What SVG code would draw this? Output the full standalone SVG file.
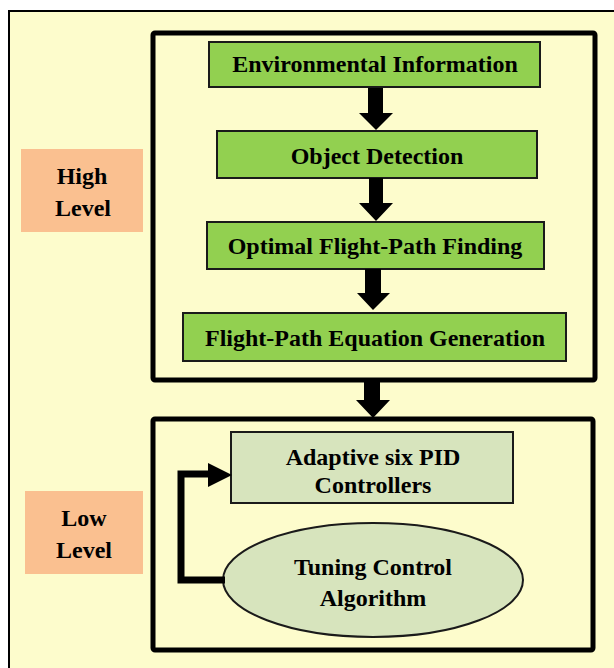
<svg xmlns="http://www.w3.org/2000/svg" width="614" height="668" viewBox="0 0 614 668">
<defs>
<style>
text{font-family:"Liberation Serif","Times New Roman",serif;font-weight:bold;font-size:24px;fill:#000;text-anchor:middle}
.green{fill:#92D050;stroke:#1a1a1a;stroke-width:2}
.pale{fill:#D7E4BD;stroke:#1a1a1a;stroke-width:2}
.frame{fill:none;stroke:#000;stroke-width:5}
.lbl{fill:#FAC090}
.arr{fill:#000}
</style>
</defs>
<rect x="0" y="0" width="614" height="668" fill="#fff"/>
<rect x="9" y="11" width="620" height="680" fill="#FDFCCC" stroke="#000" stroke-width="2"/>
<g id="high-frame"><rect class="frame" x="153" y="33" width="442" height="347" rx="2"/></g>
<g id="low-frame"><rect class="frame" x="153" y="419" width="440" height="231" rx="2"/></g>
<g id="high-label"><rect class="lbl" x="21" y="149" width="122" height="83"/><text x="82" y="184">High</text><text x="83" y="216">Level</text></g>
<g id="low-label"><rect class="lbl" x="25" y="491" width="118" height="83"/><text x="84" y="526">Low</text><text x="84" y="558">Level</text></g>
<g id="env"><rect class="green" x="209" y="42" width="331" height="45"/><text x="375" y="72">Environmental Information</text></g>
<g id="obj"><rect class="green" x="217" y="131" width="320" height="47"/><text x="377" y="164">Object Detection</text></g>
<g id="opt"><rect class="green" x="207" y="222" width="337" height="47"/><text x="375" y="254">Optimal Flight-Path Finding</text></g>
<g id="eq"><rect class="green" x="183" y="313" width="383" height="48"/><text x="375" y="346">Flight-Path Equation Generation</text></g>
<g id="pid"><rect class="pale" x="231" y="432" width="282" height="71"/><text x="373" y="465">Adaptive six PID</text><text x="373" y="493">Controllers</text></g>
<g id="tuning"><ellipse class="pale" cx="373" cy="580" rx="150" ry="57"/><text x="373" y="575">Tuning Control</text><text x="373" y="606">Algorithm</text></g>
<g id="connectors">
<path class="arr" d="M368 88h15v25h10l-17 17l-17-17h9z"/>
<path class="arr" d="M369 178h14v25h10l-17 18l-17-18h10z"/>
<path class="arr" d="M365 269h16v24h9l-17 17l-16-17h8z"/>
<path class="arr" d="M364 380h16v20h10l-17 18l-17-18h8z"/>
<path d="M225 580H181V474H212" fill="none" stroke="#000" stroke-width="7"/>
<path class="arr" d="M208 463L232 475L208 487z"/>
</g>
</svg>
